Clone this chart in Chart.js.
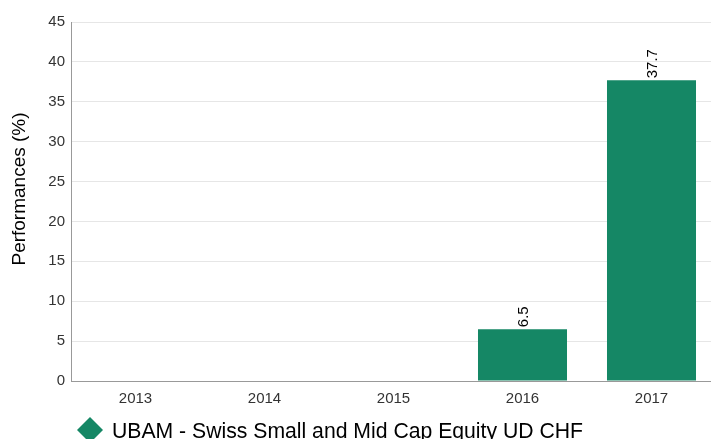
<!DOCTYPE html>
<html>
<head>
<meta charset="utf-8">
<script src="https://cdn.jsdelivr.net/npm/chart.js@4"></script>
<style>
  html, body { margin: 0; padding: 0; overflow: hidden; background: #fff; }
  #wrap { width: 711px; height: 439px; overflow: hidden; }
</style>
</head>
<body>
<div id="wrap"><canvas id="perfChart" width="730" height="439"></canvas></div>
<script>
// chart data
const years = ["2013", "2014", "2015", "2016", "2017"];
const performances = [null, null, null, 6.5, 37.7];
const yTicks = [0, 5, 10, 15, 20, 25, 30, 35, 40, 45];
const seriesName = "UBAM - Swiss Small and Mid Cap Equity UD CHF";
const yTitle = "Performances (%)";

const barColor = "#158765";
const font = "Arial, 'Liberation Sans', sans-serif";

// value labels rotated above the bars
const valueLabels = {
  id: "valueLabels",
  afterDatasetsDraw(chart) {
    const ctx = chart.ctx;
    const meta = chart.getDatasetMeta(0);
    ctx.save();
    ctx.font = "15px " + font;
    ctx.fillStyle = "#000";
    ctx.textAlign = "left";
    ctx.textBaseline = "middle";
    meta.data.forEach((bar, i) => {
      const v = performances[i];
      if (v === null) return;
      ctx.save();
      ctx.translate(bar.x + 1, bar.y - 2);
      ctx.rotate(-Math.PI / 2);
      ctx.fillText(v.toFixed(1), 0, 0);
      ctx.restore();
    });
    ctx.restore();
  },
};

// y axis title and legend
const extras = {
  id: "extras",
  afterDraw(chart) {
    const ctx = chart.ctx;
    ctx.save();
    ctx.fillStyle = "#000";
    ctx.font = "19px " + font;
    ctx.textAlign = "center";
    ctx.textBaseline = "middle";
    ctx.translate(20, 189);
    ctx.rotate(-Math.PI / 2);
    ctx.fillText(yTitle, 0, 0);
    ctx.restore();

    // legend
    ctx.save();
    const cx = 90, cy = 430, r = 13;
    ctx.fillStyle = barColor;
    ctx.beginPath();
    ctx.moveTo(cx, cy - r);
    ctx.lineTo(cx + r, cy);
    ctx.lineTo(cx, cy + r);
    ctx.lineTo(cx - r, cy);
    ctx.closePath();
    ctx.fill();
    ctx.fillStyle = "#000";
    ctx.font = "21.2px " + font;
    ctx.textAlign = "left";
    ctx.textBaseline = "alphabetic";
    ctx.fillText(chart.data.datasets[0].label, 112, 438);
    ctx.restore();
  },
};

document.addEventListener("DOMContentLoaded", function () {
  const ctx = document.getElementById("perfChart");
  new Chart(ctx, {
    type: "bar",
    data: {
      labels: years,
      datasets: [
        {
          label: seriesName,
          data: performances,
          backgroundColor: barColor,
          borderWidth: 0,
          barPercentage: 0.69,
          categoryPercentage: 1,
        },
      ],
    },
    options: {
      responsive: false,
      animation: false,
      devicePixelRatio: 1,
      layout: { padding: { left: 0, top: 22, right: 14, bottom: 28 } },
      plugins: {
        legend: { display: false },
        tooltip: { enabled: false },
      },
      scales: {
        x: {
          offset: true,
          grid: { display: false, drawTicks: false },
          border: { color: "#999", width: 1 },
          ticks: { color: "#333", font: { size: 15, family: font }, padding: 9 },
          afterFit(scale) { scale.height = 30; },
        },
        y: {
          min: 0,
          max: 45,
          afterBuildTicks(scale) {
            scale.ticks = yTicks.map((v) => ({ value: v }));
          },
          grid: { color: "#e6e6e6", drawTicks: false },
          border: { color: "#999", width: 1 },
          ticks: { color: "#333", font: { size: 15, family: font }, padding: 6 },
          afterFit(scale) { scale.width = 71; },
        },
      },
    },
    plugins: [valueLabels, extras],
  });
});
</script>
</body>
</html>
